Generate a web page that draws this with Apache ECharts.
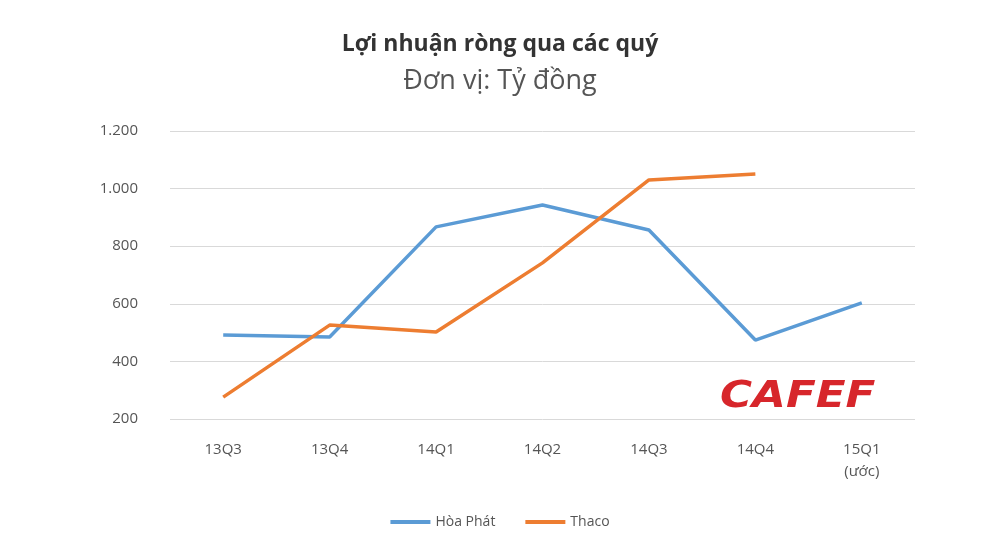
<!DOCTYPE html>
<html style="height: 100%">
<head><meta charset="utf-8"></head>
<body style="height: 100%; margin: 0; background: #fff">
<div id="container" style="width: 1000px; height: 560px"></div>
<script src="https://cdn.jsdelivr.net/npm/echarts@6/dist/echarts.min.js"></script>
<script>
var categories = ['13Q3', '13Q4', '14Q1', '14Q2', '14Q3', '14Q4', '15Q1\n(ước)'];
var hoaPhat = [492, 485, 867, 943, 856, 474, 603];
var thaco = [276, 526, 502, 742, 1030, 1051, null];

var chart = echarts.init(document.getElementById('container'));
var font = 'Open Sans, DejaVu Sans, sans-serif';
chart.setOption({
  animation: false,
  title: {
    text: 'Lợi nhuận ròng qua các quý',
    subtext: 'Đơn vị: Tỷ đồng',
    left: 'center', top: 28, itemGap: 12,
    textStyle: { fontSize: 23, fontWeight: 'bold', color: '#333', fontFamily: font },
    subtextStyle: { fontSize: 27, color: '#555', fontFamily: font }
  },
  legend: {
    bottom: 26, itemWidth: 40, itemGap: 30, icon: 'rect', itemHeight: 4,
    textStyle: { fontSize: 14, color: '#555', fontFamily: font }
  },
  grid: { left: 170, right: 85, top: 131, bottom: 141 },
  xAxis: {
    type: 'category', data: categories,
    axisLine: { show: false }, axisTick: { show: false },
    axisLabel: { fontSize: 15, color: '#555', margin: 20, lineHeight: 22, fontFamily: font }
  },
  yAxis: {
    type: 'value', min: 200, max: 1200, interval: 200,
    axisLabel: {
      fontSize: 15, color: '#555', margin: 32, fontFamily: font,
      formatter: function (v) { return String(v).replace(/\B(?=(\d{3})+(?!\d))/g, '.'); }
    },
    splitLine: { lineStyle: { color: '#d9d9d9' } }
  },
  series: [
    { name: 'Hòa Phát', type: 'line', data: hoaPhat, symbol: 'none',
      lineStyle: { width: 3.5, color: '#5b9bd5' }, itemStyle: { color: '#5b9bd5' } },
    { name: 'Thaco', type: 'line', data: thaco, symbol: 'none',
      lineStyle: { width: 3.5, color: '#ed7d31' }, itemStyle: { color: '#ed7d31' } }
  ],
  graphic: [{
    type: 'text', left: 720, top: 378, scaleX: 1.15,
    style: { text: 'CAFEF', fontSize: 38, fontWeight: 900, fontStyle: 'italic',
      fill: '#d7262b', fontFamily: 'DejaVu Sans, sans-serif' }
  }]
});
</script>
</body>
</html>
